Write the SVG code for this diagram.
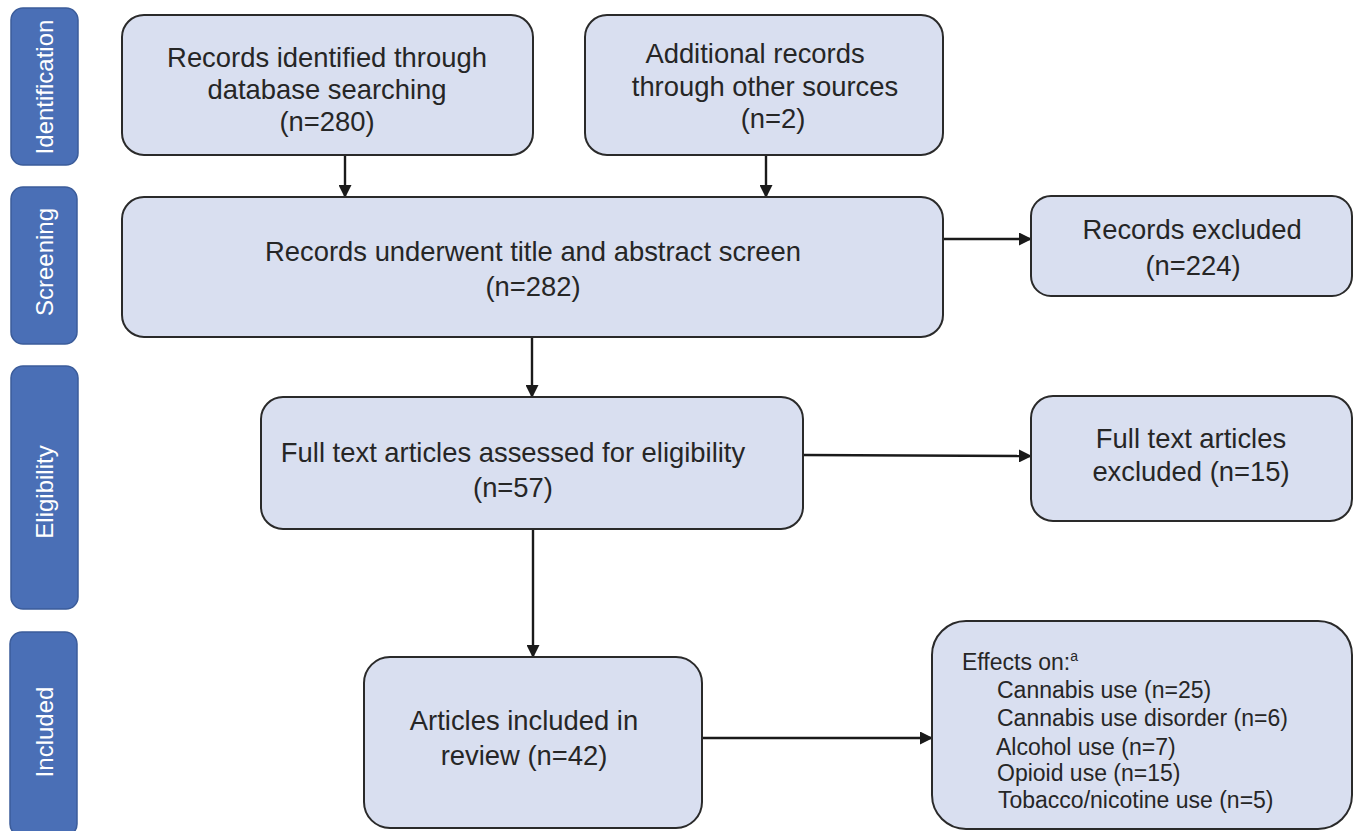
<svg xmlns="http://www.w3.org/2000/svg" width="1360" height="831" viewBox="0 0 1360 831">
<style>
.side{fill:#4a6fb6;stroke:#3b5c9a;stroke-width:1.5}
.sidet{fill:#ffffff;font-family:"Liberation Sans",Arial,sans-serif;font-size:24px;text-anchor:middle}
.box{fill:#d9dff0;stroke:#2a2a2a;stroke-width:2}
.t{fill:#262626;font-family:"Liberation Sans",Arial,sans-serif;font-size:27.4px;text-anchor:middle}
.e{fill:#262626;font-family:"Liberation Sans",Arial,sans-serif;font-size:23px}
.c{stroke:#1a1a1a;stroke-width:2.4;fill:none;marker-end:url(#ah)}
</style>
<defs>
<marker id="ah" markerWidth="13" markerHeight="13" refX="12" refY="6.5" orient="auto" markerUnits="userSpaceOnUse">
<path d="M0,0 L13,6.5 L0,13 Z" fill="#1a1a1a"/>
</marker>
</defs>
<rect width="1360" height="831" fill="#ffffff"/>

<g id="stage-identification">
<rect class="side" x="11" y="8" width="67" height="157" rx="12"/>
<text class="sidet" transform="translate(53,87) rotate(-90)">Identification</text>
</g>
<g id="stage-screening">
<rect class="side" x="11" y="187" width="66" height="157" rx="12"/>
<text class="sidet" font-size="25.5" transform="translate(53,262) rotate(-90)">Screening</text>
</g>
<g id="stage-eligibility">
<rect class="side" x="11" y="366" width="67" height="243" rx="12"/>
<text class="sidet" font-size="26" transform="translate(53,492) rotate(-90)">Eligibility</text>
</g>
<g id="stage-included">
<rect class="side" x="10" y="632" width="67" height="204" rx="12"/>
<text class="sidet" transform="translate(53,732) rotate(-90)">Included</text>
</g>

<g id="connectors">
<line class="c" x1="345" y1="155" x2="345" y2="197"/>
<line class="c" x1="766" y1="155" x2="766" y2="197"/>
<line class="c" x1="943" y1="239" x2="1031" y2="239"/>
<line class="c" x1="532" y1="337" x2="532" y2="397"/>
<line class="c" x1="803" y1="455" x2="1031" y2="456"/>
<line class="c" x1="533" y1="529" x2="533" y2="657"/>
<line class="c" x1="702" y1="738" x2="932" y2="738"/>
</g>

<g id="n-database">
<rect class="box" x="122" y="15" width="411" height="140" rx="22"/>
<text class="t" x="327" y="67">Records identified through</text>
<text class="t" x="327" y="99">database searching</text>
<text class="t" x="327" y="131">(n=280)</text>
</g>
<g id="n-other">
<rect class="box" x="585" y="15" width="358" height="140" rx="22"/>
<text class="t" x="755" y="63">Additional records</text>
<text class="t" x="765" y="96">through other sources</text>
<text class="t" x="773" y="128">(n=2)</text>
</g>
<g id="n-screen">
<rect class="box" x="122" y="197" width="821" height="140" rx="22"/>
<text class="t" x="533" y="261">Records underwent title and abstract screen</text>
<text class="t" x="533" y="296">(n=282)</text>
</g>
<g id="n-excluded">
<rect class="box" x="1031" y="196" width="321" height="100" rx="20"/>
<text class="t" x="1192" y="239">Records excluded</text>
<text class="t" x="1193" y="275">(n=224)</text>
</g>
<g id="n-fulltext">
<rect class="box" x="261" y="397" width="542" height="132" rx="22"/>
<text class="t" font-size="25.5" x="513" y="462">Full text articles assessed for eligibility</text>
<text class="t" font-size="25.5" x="513" y="497">(n=57)</text>
</g>
<g id="n-ftexcluded">
<rect class="box" x="1031" y="396" width="321" height="125" rx="22"/>
<text class="t" x="1191" y="448">Full text articles</text>
<text class="t" x="1191" y="481">excluded (n=15)</text>
</g>
<g id="n-included">
<rect class="box" x="364" y="657" width="338" height="171" rx="26"/>
<text class="t" x="524" y="730">Articles included in</text>
<text class="t" x="524" y="765">review (n=42)</text>
</g>
<g id="n-effects">
<rect class="box" x="932" y="621" width="420" height="208" rx="34"/>
<text class="e" x="962" y="670">Effects on:<tspan font-size="14" dy="-9">a</tspan></text>
<text class="e" x="997" y="698">Cannabis use (n=25)</text>
<text class="e" x="997" y="726">Cannabis use disorder (n=6)</text>
<text class="e" x="996" y="755">Alcohol use (n=7)</text>
<text class="e" x="997" y="781">Opioid use (n=15)</text>
<text class="e" x="998" y="808">Tobacco/nicotine use (n=5)</text>
</g>
</svg>
